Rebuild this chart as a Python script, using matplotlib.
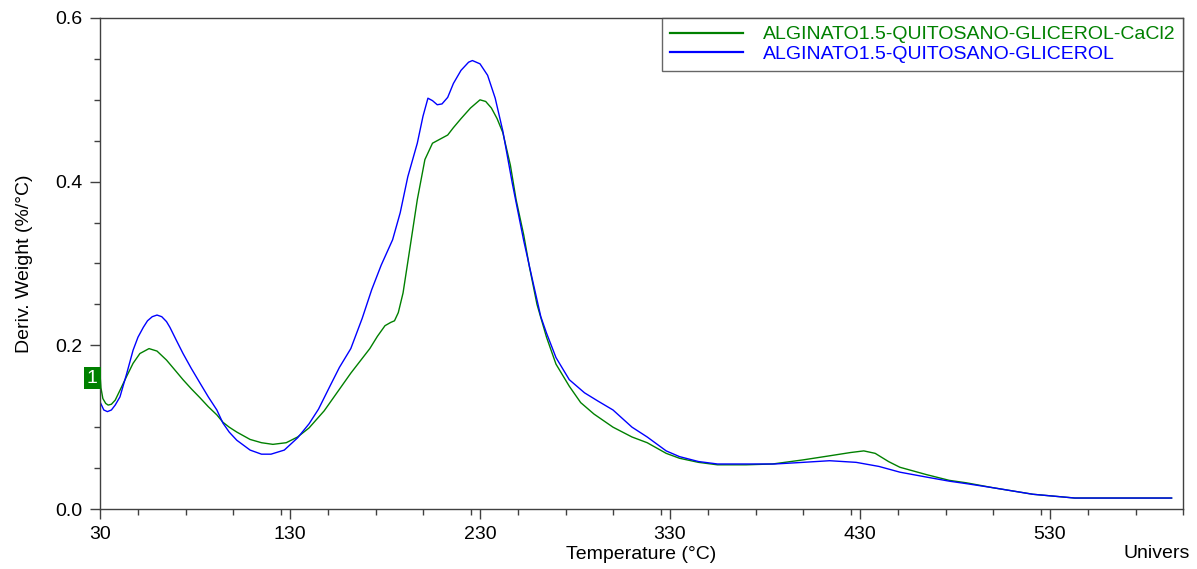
import matplotlib
matplotlib.use("Agg")
import matplotlib.pyplot as plt
from matplotlib.ticker import MultipleLocator, FixedLocator

plt.rcParams['font.family'] = ['Liberation Sans', 'DejaVu Sans']

# ---- data ----
temp_cacl2 = [30, 30.5, 31.5, 33, 34.3, 36, 38, 40.5, 44, 47.4, 51, 55.8, 60, 65, 69, 73.7, 78, 82.6, 87,
              91.5, 94.7, 98, 102, 109, 115, 121, 128, 134, 140, 148, 155, 162, 168, 172, 176, 180, 183,
              185, 187, 189.5, 193, 197, 201, 205, 209, 213, 216, 220, 225, 230, 233, 236, 239, 242, 246,
              249, 253, 256, 260, 265, 270, 277, 283, 290, 300, 310, 318, 328, 335, 345, 355, 370, 384,
              400, 414, 425, 432, 438, 445, 451, 465, 477, 486, 500, 521, 543, 560, 580, 594]
dtg_cacl2 = [0.165, 0.148, 0.135, 0.129, 0.127, 0.128, 0.133, 0.145, 0.162, 0.178, 0.19, 0.196, 0.193,
             0.182, 0.171, 0.158, 0.147, 0.136, 0.125, 0.115, 0.106, 0.1, 0.094, 0.085, 0.081, 0.079,
             0.081, 0.088, 0.099, 0.12, 0.143, 0.166, 0.184, 0.196, 0.211, 0.224, 0.228, 0.23, 0.24,
             0.264, 0.317, 0.378, 0.427, 0.447, 0.452, 0.457, 0.466, 0.477, 0.49, 0.5, 0.498, 0.49,
             0.477, 0.46, 0.42, 0.378, 0.335, 0.296, 0.25, 0.21, 0.177, 0.15, 0.13, 0.116, 0.1, 0.088,
             0.081, 0.068, 0.062, 0.057, 0.054, 0.054, 0.055, 0.06, 0.065, 0.069, 0.071, 0.068, 0.058,
             0.051, 0.042, 0.035, 0.032, 0.026, 0.018, 0.0134, 0.0134, 0.0134, 0.0134]

temp_glic = [30, 32, 33.9, 36, 38, 40.5, 44, 47.4, 50, 52.8, 55, 57.5, 60, 62.5, 65, 66.8, 70, 73.7, 78,
             82.6, 87, 91.5, 94.7, 98, 102, 109, 115, 120, 127, 134, 140, 145, 151, 156, 162, 168, 173,
             178, 184, 188, 192, 197, 200, 202.6, 205, 207.5, 210, 213, 216, 220, 224, 226, 230, 234,
             238, 242, 247, 253, 258, 262, 265, 270, 277, 285, 292, 300, 310, 318, 328, 335, 345, 355,
             370, 385, 400, 414, 428, 440, 451, 465, 477, 486, 500, 521, 543, 560, 580, 594]
dtg_glic = [0.131, 0.121, 0.119, 0.121, 0.127, 0.137, 0.165, 0.194, 0.21, 0.222, 0.23, 0.235, 0.237,
            0.235, 0.229, 0.222, 0.207, 0.19, 0.172, 0.154, 0.137, 0.121, 0.105, 0.094, 0.084, 0.072,
            0.067, 0.067, 0.072, 0.087, 0.104, 0.122, 0.15, 0.173, 0.196, 0.233, 0.268, 0.298, 0.329,
            0.362, 0.406, 0.447, 0.48, 0.502, 0.499, 0.494, 0.495, 0.503, 0.52, 0.536, 0.546, 0.548,
            0.544, 0.53, 0.502, 0.462, 0.398, 0.328, 0.276, 0.235, 0.215, 0.185, 0.158, 0.142, 0.132,
            0.121, 0.1, 0.088, 0.071, 0.064, 0.058, 0.055, 0.055, 0.055, 0.057, 0.059, 0.057, 0.052,
            0.045, 0.039, 0.034, 0.031, 0.026, 0.018, 0.0134, 0.0134, 0.0134, 0.0134]

label_cacl2 = "ALGINATO1.5-QUITOSANO-GLICEROL-CaCl2"
label_glic = "ALGINATO1.5-QUITOSANO-GLICEROL"
x_ticks = [30, 130, 230, 330, 430, 530]
y_ticks = [0.0, 0.2, 0.4, 0.6]

green = '#008000'
blue = '#0000ff'
spine_c = '#404040'
FS = 14

fig = plt.figure(figsize=(11.97, 5.69), dpi=100)
ax = fig.add_axes([100 / 1197, 1 - 509 / 569, (1183 - 100) / 1197, (509 - 18) / 569])

l1, = ax.plot(temp_cacl2, dtg_cacl2, color=green, lw=1.0, label=label_cacl2)
l2, = ax.plot(temp_glic, dtg_glic, color=blue, lw=1.0, label=label_glic)

ax.set_xlim(30, 600)
ax.set_ylim(0, 0.6)
ax.xaxis.set_major_locator(FixedLocator(x_ticks))
ax.xaxis.set_minor_locator(MultipleLocator(25))
ax.yaxis.set_major_locator(FixedLocator(y_ticks))
ax.yaxis.set_minor_locator(MultipleLocator(0.05))
ax.set_xticklabels([str(t) for t in x_ticks])
ax.set_yticklabels([f"{v:.1f}" for v in y_ticks])

for s in ax.spines.values():
    s.set_color(spine_c)
    s.set_linewidth(1.0)
ax.tick_params(axis='both', which='major', length=7.5, width=1.0, color=spine_c, labelsize=FS, pad=5)
ax.tick_params(axis='both', which='minor', length=4, width=1.0, color=spine_c)

ax.set_xlabel("Temperature (°C)", fontsize=FS, labelpad=2)
ax.set_ylabel("Deriv. Weight (%/°C)", fontsize=FS, labelpad=16)

fig.text(1157 / 1197, 1 - 553 / 569, "Univers", fontsize=FS, ha='center', va='center')

# marker label "1" at the green curve start
ax.text(-0.002, 0.16, "1", transform=ax.get_yaxis_transform(), ha='right', va='center',
        fontsize=FS, color='white',
        bbox=dict(boxstyle='square,pad=0.15', facecolor=green, edgecolor='none'))

leg = ax.legend(handles=[l1, l2], loc='upper right', bbox_to_anchor=(1.0, 1.0), borderaxespad=0,
                fontsize=FS, frameon=True, fancybox=False, edgecolor=spine_c,
                handlelength=3.75, handletextpad=1.0, labelspacing=0.1, borderpad=0.4,
                labelcolor='linecolor')
leg.get_frame().set_linewidth(1.0)
for h in leg.legend_handles:
    h.set_linewidth(1.6)

fig.savefig("out.png", dpi=100)
